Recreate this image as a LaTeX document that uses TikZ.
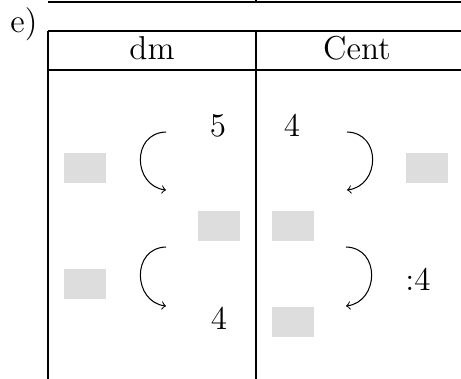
\documentclass[tikz,border=0pt]{standalone}
\begin{document}
\begin{tikzpicture}[x=0.4348pt,y=-0.4348pt,
  grid/.style={line width=0.45pt},
  blank/.style={fill={rgb,255:red,221;green,221;blue,221},draw=none,minimum width=18.26pt,minimum height=13.04pt,inner sep=0pt},
  num/.style={inner sep=0pt,anchor=base,font=\Large},
  hdr/.style={inner sep=0pt,anchor=base,font=\Large},
  swing/.style={->,line width=0.45pt}]
\useasboundingbox (0,0) rectangle (461,378);
% previous table remnant
\draw[grid] (48,2) -- (461,2);
\draw[grid] (256,-1) -- (256,2);
% label
\node[inner sep=0pt,anchor=base west,font=\Large] (lab) at (10,32) {e)};
% table
\draw[grid] (48,31) -- (461,31);
\draw[grid] (48,70) -- (461,70);
\draw[grid] (48,31) -- (48,379);
\draw[grid] (256,31) -- (256,379);
\node[hdr] (hdm) at (152,59) {dm};
\node[hdr] (hcent) at (357,59) {Cent};
% blanks
\node[blank] (b1) at (85,168) {};
\node[blank] (b2) at (219,226) {};
\node[blank] (b3) at (427,168) {};
\node[blank] (b4) at (293,226) {};
\node[blank] (b5) at (85,284) {};
\node[blank] (b6) at (293,322) {};
% numbers
\node[num] (n5) at (218,136) {5};
\node[num] (n4a) at (292,136) {4};
\node[num] (n4b) at (219,329) {4};
\node[num] (d4) at (418,290) {:4};
% arrows
\coordinate (l1s) at (166,132); \coordinate (l1e) at (166,190);
\coordinate (r1s) at (347,132); \coordinate (r1e) at (347,190);
\coordinate (l2s) at (166,247); \coordinate (l2e) at (166,306);
\coordinate (r2s) at (346,247); \coordinate (r2e) at (346,306);
\draw[swing] (l1s) .. controls (131,133) and (133,186) .. (l1e);
\draw[swing] (r1s) .. controls (382,133) and (380,186) .. (r1e);
\draw[swing] (l2s) .. controls (131,248) and (133,302) .. (l2e);
\draw[swing] (r2s) .. controls (381,248) and (379,302) .. (r2e);
\end{tikzpicture}
\end{document}
